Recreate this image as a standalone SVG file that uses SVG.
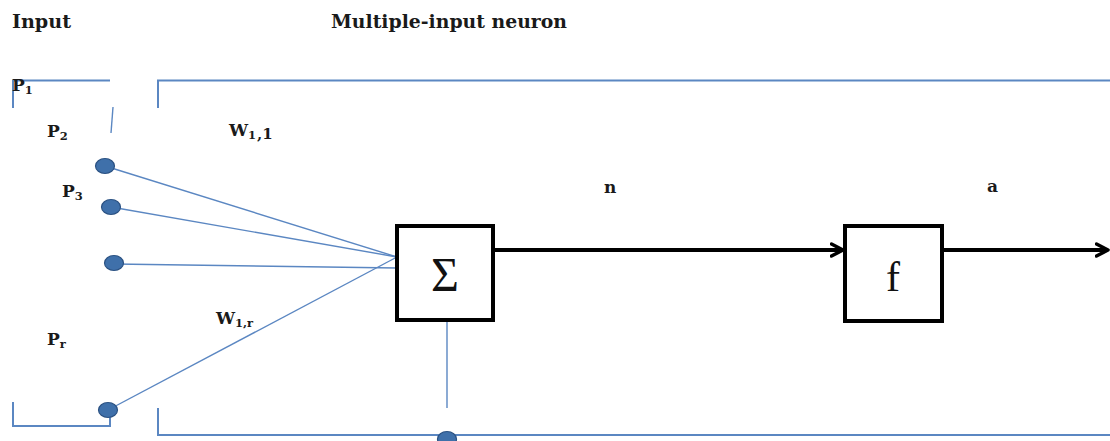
<svg xmlns="http://www.w3.org/2000/svg" width="1110" height="441" viewBox="0 0 1110 441">
<defs>
<style>
text{font-family:"DejaVu Serif","Liberation Serif",serif;}
.t{font-weight:bold;fill:#1a1a1a;}
.lbl{font-size:17px;}
.hdr{font-size:18px;}
.sub{font-size:11.5px;}
.blue{stroke:#5b87c2;stroke-width:1.4;fill:none;}
.frame{stroke:#5b87c2;stroke-width:2;fill:none;}
.dot{fill:#3f70aa;stroke:#2c5283;stroke-width:1.2;}
.box{fill:#fff;stroke:#000;stroke-width:4;}
.thick{stroke:#000;stroke-width:4;fill:none;}
.big{font-family:"Liberation Serif","Times New Roman",serif;fill:#111;}
</style>
<marker id="arr" markerWidth="16" markerHeight="16" refX="13" refY="8" orient="auto" markerUnits="userSpaceOnUse">
<path d="M1.5,2 L13,8 L1.5,14" fill="none" stroke="#000" stroke-width="3.5" stroke-linecap="round" stroke-linejoin="round"/>
</marker>
</defs>
<rect width="1110" height="441" fill="#fff"/>
<text class="t hdr" x="12" y="28" textLength="59" lengthAdjust="spacingAndGlyphs">Input</text>
<text class="t hdr" x="331" y="28" textLength="236" lengthAdjust="spacingAndGlyphs">Multiple-input neuron</text>
<g id="frames">
<path class="frame" d="M13,108 V80.5 H110"/>
<path class="blue" d="M113,107 L111,133"/>
<path class="frame" d="M158,108 V80.5 H1110"/>
<path class="frame" d="M13,402 V426 H110 V410"/>
<path class="frame" d="M158,408 V435 H1110"/>
</g>
<g id="connectors">
<line class="blue" x1="105" y1="166" x2="397" y2="257"/>
<line class="blue" x1="111" y1="207" x2="397" y2="257"/>
<line class="blue" x1="114" y1="264" x2="397" y2="268"/>
<line class="blue" x1="108" y1="410" x2="397" y2="257"/>
<line class="blue" x1="447" y1="320" x2="447" y2="408"/>
<line class="thick" x1="493" y1="250" x2="843" y2="250" marker-end="url(#arr)"/>
<line class="thick" x1="943" y1="250" x2="1108" y2="250" marker-end="url(#arr)"/>
</g>
<g id="inputs">
<ellipse class="dot" cx="105" cy="166" rx="9.5" ry="7.5"/>
<ellipse class="dot" cx="111" cy="207" rx="9.5" ry="7.5"/>
<ellipse class="dot" cx="114" cy="263" rx="9.5" ry="7.5"/>
<ellipse class="dot" cx="108" cy="410" rx="9.5" ry="7.5"/>
<ellipse class="dot" cx="447" cy="439" rx="9.5" ry="7.5"/>
</g>
<g id="labels">
<text class="t lbl" x="12" y="91">P<tspan class="sub" dy="3">1</tspan></text>
<text class="t lbl" x="47" y="137">P<tspan class="sub" dy="3">2</tspan></text>
<text class="t lbl" x="62" y="197">P<tspan class="sub" dy="3">3</tspan></text>
<text class="t lbl" x="47" y="345">P<tspan class="sub" dy="3">r</tspan></text>
<text class="t lbl" x="229" y="136">W<tspan class="sub" dy="3">1</tspan><tspan dx="1" style="font-size:15px">,1</tspan></text>
<text class="t lbl" x="216" y="324">W<tspan class="sub" dy="3">1</tspan><tspan class="sub">,r</tspan></text>
<text class="t lbl" x="604" y="193">n</text>
<text class="t lbl" x="987" y="192">a</text>
</g>
<g id="sum">
<rect class="box" x="397" y="226" width="96" height="94"/>
<text class="big" x="445" y="291" text-anchor="middle" font-size="48">Σ</text>
</g>
<g id="transfer">
<rect class="box" x="845" y="226" width="97" height="95"/>
<text class="big" x="893" y="291" text-anchor="middle" font-size="42">f</text>
</g>
</svg>
